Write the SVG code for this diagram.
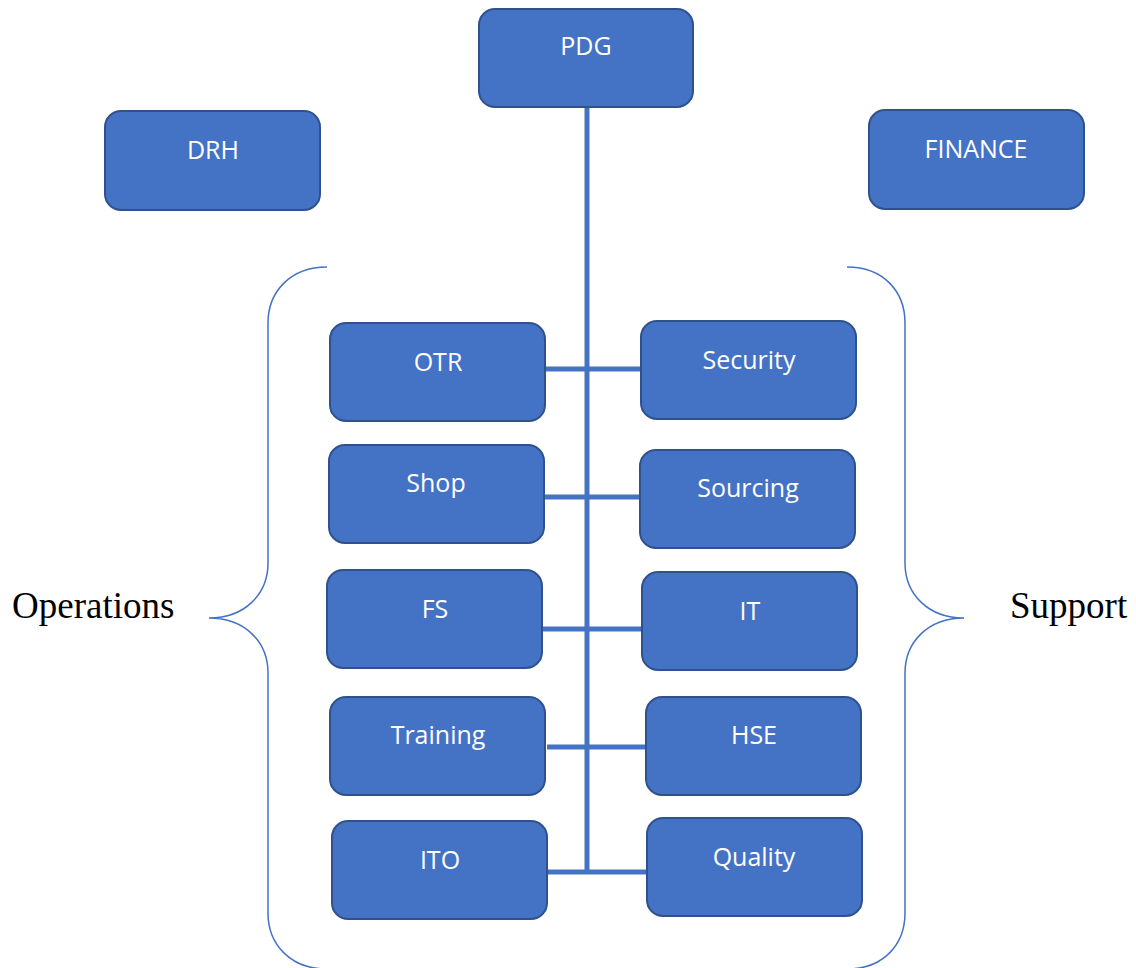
<svg xmlns="http://www.w3.org/2000/svg" width="1136" height="968" viewBox="0 0 1136 968">
<style>
.box{fill:#4472C4;stroke:#2F528F;stroke-width:2}
.lbl{font-family:"Open Sans","Noto Sans",sans-serif;font-size:25px;fill:#ffffff;text-anchor:middle}
.conn{stroke:#4472C4;stroke-width:5;fill:none}
.brace{stroke:#4472C4;stroke-width:1.5;fill:none}
.side{font-family:"Liberation Serif","Times New Roman",serif;font-size:37px;fill:#000}
</style>
<rect width="1136" height="968" fill="#ffffff"/>
<g id="connectors">
<line class="conn" x1="587" y1="107" x2="587" y2="872"/>
<line class="conn" x1="545" y1="369" x2="641" y2="369"/>
<line class="conn" x1="544" y1="497" x2="640" y2="497"/>
<line class="conn" x1="542" y1="629" x2="642" y2="629"/>
<line class="conn" x1="547" y1="747" x2="646" y2="747"/>
<line class="conn" x1="547" y1="872" x2="647" y2="872"/>
</g>
<g id="braces">
<path class="brace" d="M327,267 C290,267 268,292 268,323 L268,563 C268,594 245,618 209,618 C245,618 268,642 268,673 L268,913 C268,944 290,969 327,969"/>
<path class="brace" d="M847,267 C884,267 905,292 905,323 L905,563 C905,594 928,618 964,618 C928,618 905,642 905,673 L905,913 C905,944 884,969 847,969"/>
</g>
<g id="PDG"><rect class="box" x="479" y="9" width="214" height="98" rx="16"/><text class="lbl" x="586" y="55">PDG</text></g>
<g id="DRH"><rect class="box" x="105" y="111" width="215" height="99" rx="16"/><text class="lbl" x="213" y="159">DRH</text></g>
<g id="FINANCE"><rect class="box" x="869" y="110" width="215" height="99" rx="16"/><text class="lbl" x="976" y="158">FINANCE</text></g>
<g id="OTR"><rect class="box" x="330" y="323" width="215" height="98" rx="16"/><text class="lbl" x="438" y="371">OTR</text></g>
<g id="Shop"><rect class="box" x="329" y="445" width="215" height="98" rx="16"/><text class="lbl" x="436" y="492">Shop</text></g>
<g id="FS"><rect class="box" x="327" y="570" width="215" height="98" rx="16"/><text class="lbl" x="435" y="618">FS</text></g>
<g id="Training"><rect class="box" x="330" y="697" width="215" height="98" rx="16"/><text class="lbl" x="438" y="744">Training</text></g>
<g id="ITO"><rect class="box" x="332" y="821" width="215" height="98" rx="16"/><text class="lbl" x="440" y="869">ITO</text></g>
<g id="Security"><rect class="box" x="641" y="321" width="215" height="98" rx="16"/><text class="lbl" x="749" y="369">Security</text></g>
<g id="Sourcing"><rect class="box" x="640" y="450" width="215" height="98" rx="16"/><text class="lbl" x="748" y="497">Sourcing</text></g>
<g id="IT"><rect class="box" x="642" y="572" width="215" height="98" rx="16"/><text class="lbl" x="750" y="620">IT</text></g>
<g id="HSE"><rect class="box" x="646" y="697" width="215" height="98" rx="16"/><text class="lbl" x="754" y="744">HSE</text></g>
<g id="Quality"><rect class="box" x="647" y="818" width="215" height="98" rx="16"/><text class="lbl" x="754" y="866">Quality</text></g>
<text class="side" x="12" y="618">Operations</text>
<text class="side" x="1010" y="618">Support</text>
</svg>
